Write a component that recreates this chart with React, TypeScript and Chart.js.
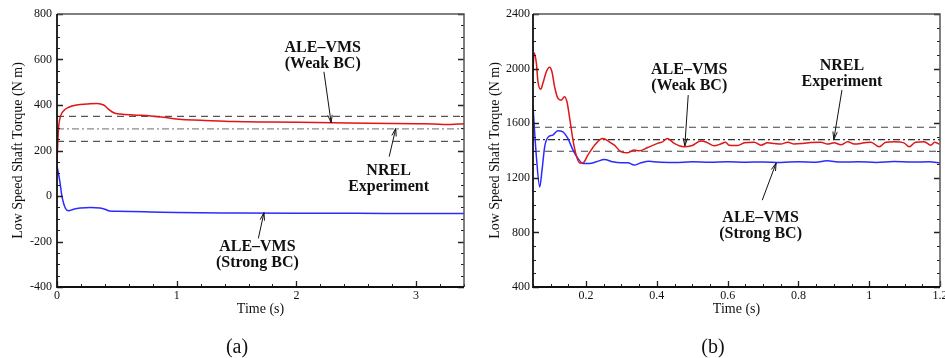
import React, { useEffect, useRef } from "react";
import { Chart, registerables } from "chart.js";
Chart.register(...registerables);

// ---------- Panel (a) data ----------
const aWeakT = [0, 0.007, 0.014, 0.028, 0.056, 0.098, 0.167, 0.25, 0.335, 0.39, 0.432, 0.474, 0.53, 0.64, 0.78, 0.92, 1.02, 1.2, 1.48, 1.8, 2.31, 2.6, 3.0, 3.15, 3.25, 3.4];
const aWeakV = [150, 240, 305, 349, 375, 390, 400, 404, 407, 400, 381, 366, 360, 356, 352, 344, 337, 333, 327, 325, 322, 320, 318, 317, 314, 318];
const aStrongT = [0, 0.022, 0.042, 0.07, 0.097, 0.14, 0.195, 0.28, 0.36, 0.4, 0.44, 0.5, 0.78, 1.0, 1.5, 2.0, 2.5, 3.0, 3.4];
const aStrongV = [132, 70, -3, -54, -65, -58, -53, -50, -53, -58, -66, -67, -70, -73, -75, -76, -76, -77, -77];
const aNrel = [240, 295, 350]; // lower, mean, upper
const aXTicks = [0, 1, 2, 3];
const aYTicks = [-400, -200, 0, 200, 400, 600, 800];

// ---------- Panel (b) data ----------
const bWeakT = [0.05, 0.053, 0.0596, 0.064, 0.0717, 0.078, 0.0877, 0.097, 0.1035, 0.111, 0.1205, 0.13, 0.139, 0.146, 0.153, 0.163, 0.172, 0.1815, 0.191, 0.205, 0.224, 0.247, 0.266, 0.28, 0.299, 0.318, 0.336, 0.35, 0.374, 0.402, 0.416, 0.43, 0.449, 0.477, 0.5, 0.524, 0.54, 0.562, 0.58, 0.594, 0.604, 0.628, 0.647, 0.675, 0.694, 0.713, 0.732, 0.75, 0.77, 0.788, 0.812, 0.835, 0.863, 0.882, 0.901, 0.92, 0.939, 0.958, 0.986, 1.005, 1.028, 1.047, 1.07, 1.098, 1.113, 1.131, 1.155, 1.174, 1.185, 1.198];
const bWeakV = [1977, 2116, 2038, 1904, 1848, 1892, 1977, 2009, 1977, 1867, 1782, 1769, 1794, 1757, 1647, 1476, 1366, 1309, 1309, 1366, 1439, 1488, 1463, 1439, 1390, 1383, 1403, 1398, 1422, 1452, 1463, 1488, 1452, 1427, 1437, 1469, 1461, 1434, 1447, 1461, 1439, 1437, 1456, 1461, 1439, 1456, 1451, 1447, 1461, 1447, 1451, 1458, 1461, 1447, 1456, 1442, 1464, 1447, 1456, 1461, 1427, 1461, 1464, 1456, 1427, 1461, 1464, 1439, 1461, 1447];
const bStrongT = [0.05, 0.0596, 0.069, 0.0755, 0.083, 0.092, 0.106, 0.12, 0.1345, 0.1485, 0.163, 0.177, 0.191, 0.21, 0.2286, 0.252, 0.275, 0.299, 0.318, 0.336, 0.355, 0.378, 0.402, 0.45, 0.5, 0.55, 0.6, 0.65, 0.7, 0.75, 0.8, 0.85, 0.88, 0.92, 0.97, 1.02, 1.07, 1.12, 1.17, 1.2];
const bStrongV = [1720, 1354, 1133, 1256, 1427, 1496, 1513, 1545, 1537, 1488, 1403, 1342, 1305, 1305, 1317, 1334, 1317, 1310, 1310, 1293, 1310, 1322, 1315, 1312, 1317, 1314, 1318, 1314, 1316, 1312, 1318, 1314, 1324, 1315, 1318, 1313, 1319, 1315, 1317, 1310];
const bNrel = [1395, 1480, 1570];
const bXTicks = [0.2, 0.4, 0.6, 0.8, 1, 1.2];
const bYTicks = [400, 800, 1200, 1600, 2000, 2400];

// ---------- Annotations ----------
const annText = [["ALE–VMS", "(Weak BC)"], ["NREL", "Experiment"], ["ALE–VMS", "(Strong BC)"]];
const aAnnLabel = [[2.22, 615], [2.77, 74], [1.674, -258]];
const aAnnFrom = [[2.23, 546], [2.775, 173], [1.682, -186]];
const aAnnTo = [[2.29, 322], [2.83, 297], [1.729, -73]];
const bAnnLabel = [[0.4914, 1931], [0.923, 1965], [0.693, 849]];
const bAnnFrom = [[0.4886, 1806], [0.923, 1843], [0.6977, 1036]];
const bAnnTo = [[0.479, 1434], [0.9, 1481], [0.737, 1308]];

const FONT = '"Liberation Serif", "Times New Roman", serif';
const RED = "#e01515";
const BLUE = "#2b2bff";

const pts = (t: number[], v: number[]) => t.map((x, i) => ({ x, y: v[i] }));

const framePlugin = {
  id: "frame",
  afterDatasetsDraw(chart: any, _a: any, opts: any) {
    const { ctx, chartArea } = chart;
    const { left, right, top, bottom } = chartArea;
    const xs = chart.scales.x, ys = chart.scales.y;
    ctx.save();
    ctx.strokeStyle = "#222";
    ctx.lineWidth = 1;
    const minorX: number[] = [];
    for (let v = xs.min; v <= xs.max + 1e-9; v += opts.xMinor) minorX.push(v);
    const minorY: number[] = [];
    for (let v = ys.min; v <= ys.max + 1e-9; v += opts.yMinor) minorY.push(v);
    ctx.beginPath();
    minorX.forEach((v) => {
      const px = Math.round(xs.getPixelForValue(v)) + 0.5;
      ctx.moveTo(px, bottom); ctx.lineTo(px, bottom - 3);
    });
    minorY.forEach((v) => {
      const py = Math.round(ys.getPixelForValue(v)) + 0.5;
      ctx.moveTo(left, py); ctx.lineTo(left + 3, py);
      ctx.moveTo(right, py); ctx.lineTo(right - 3, py);
    });
    ctx.stroke();
    ctx.lineWidth = 1.3;
    ctx.beginPath();
    opts.xMajor.forEach((v: number) => {
      const px = Math.round(xs.getPixelForValue(v)) + 0.5;
      ctx.moveTo(px, bottom); ctx.lineTo(px, bottom - 6);
    });
    opts.yMajor.forEach((v: number) => {
      const py = Math.round(ys.getPixelForValue(v)) + 0.5;
      ctx.moveTo(left, py); ctx.lineTo(left + 6, py);
      ctx.moveTo(right, py); ctx.lineTo(right - 6, py);
    });
    ctx.stroke();
    ctx.lineWidth = 1.5;
    ctx.strokeStyle = "#555";
    ctx.beginPath();
    ctx.moveTo(left, top); ctx.lineTo(right, top); ctx.lineTo(right, bottom);
    ctx.stroke();
    ctx.lineWidth = 1.8;
    ctx.strokeStyle = "#111";
    ctx.beginPath();
    ctx.moveTo(left, top); ctx.lineTo(left, bottom); ctx.lineTo(right, bottom);
    ctx.stroke();
    ctx.restore();
  },
};

const annPlugin = {
  id: "ann",
  afterDatasetsDraw(chart: any, _a: any, opts: any) {
    const { ctx } = chart;
    const xs = chart.scales.x, ys = chart.scales.y;
    ctx.save();
    ctx.font = `bold 16px ${FONT}`;
    ctx.fillStyle = "#111";
    ctx.strokeStyle = "#111";
    ctx.lineWidth = 1;
    ctx.textAlign = "center";
    ctx.textBaseline = "middle";
    opts.text.forEach((lines: string[], i: number) => {
      const cx = xs.getPixelForValue(opts.label[i][0]);
      const cy = ys.getPixelForValue(opts.label[i][1]);
      lines.forEach((ln, j) => ctx.fillText(ln, cx, cy + (j - (lines.length - 1) / 2) * 16));
      const x1 = xs.getPixelForValue(opts.from[i][0]), y1 = ys.getPixelForValue(opts.from[i][1]);
      const x2 = xs.getPixelForValue(opts.to[i][0]), y2 = ys.getPixelForValue(opts.to[i][1]);
      ctx.beginPath(); ctx.moveTo(x1, y1); ctx.lineTo(x2, y2); ctx.stroke();
      const ang = Math.atan2(y2 - y1, x2 - x1);
      const L = 8, w = 0.28;
      ctx.beginPath();
      ctx.moveTo(x2 - L * Math.cos(ang - w), y2 - L * Math.sin(ang - w));
      ctx.lineTo(x2, y2);
      ctx.lineTo(x2 - L * Math.cos(ang + w), y2 - L * Math.sin(ang + w));
      ctx.stroke();
    });
    ctx.restore();
  },
};

type Spec = {
  weakT: number[]; weakV: number[]; strongT: number[]; strongV: number[];
  nrel: number[]; xMin: number; xMax: number; yMin: number; yMax: number;
  xTicks: number[]; yTicks: number[]; xMinor: number; yMinor: number;
  yWidth: number; padRight: number; yTitlePad: number; yTickPad: number;
  dashColor: string; dotColor: string;
  annLabel: number[][]; annFrom: number[][]; annTo: number[][];
};

function makeConfig(s: Spec): any {
  const band = (v: number) => [{ x: s.xMin, y: v }, { x: s.xMax, y: v }];
  const lineDs = (data: any, color: string, w = 1.5) => ({
    data, borderColor: color, borderWidth: w, pointRadius: 0, fill: false,
    cubicInterpolationMode: "monotone" as const,
  });
  return {
    type: "line",
    data: {
      datasets: [
        lineDs(pts(s.weakT, s.weakV), RED),
        lineDs(pts(s.strongT, s.strongV), BLUE),
        { ...lineDs(band(s.nrel[2]), s.dashColor, 1.1), borderDash: [7, 5] },
        { ...lineDs(band(s.nrel[1]), s.dotColor, 1.1), borderDash: [7, 3, 2, 3] },
        { ...lineDs(band(s.nrel[0]), s.dashColor, 1.1), borderDash: [7, 5] },
      ],
    },
    options: {
      animation: false,
      responsive: false,
      devicePixelRatio: 1,
      layout: { padding: { left: 0, right: s.padRight, top: 14, bottom: 0 } },
      plugins: {
        legend: { display: false },
        tooltip: { enabled: false },
        frame: { xMajor: s.xTicks, yMajor: s.yTicks, xMinor: s.xMinor, yMinor: s.yMinor },
        ann: { text: annText, label: s.annLabel, from: s.annFrom, to: s.annTo },
      },
      scales: {
        x: {
          type: "linear", min: s.xMin, max: s.xMax,
          grid: { display: false, drawTicks: false },
          border: { display: false },
          ticks: { autoSkip: false, maxRotation: 0, padding: 2, color: "#111",
            font: { family: FONT, size: 12 }, callback: (v: any) => String(v) },
          title: { display: true, text: "Time (s)", color: "#111",
            font: { family: FONT, size: 14 }, padding: { top: 0, bottom: 40 } },
          afterBuildTicks: (sc: any) => { sc.ticks = s.xTicks.map((v) => ({ value: v })); },
          afterFit: (sc: any) => { sc.height = 71; sc.paddingLeft = 0; sc.paddingRight = 0; },
        },
        y: {
          type: "linear", min: s.yMin, max: s.yMax,
          grid: { display: false, drawTicks: false },
          border: { display: false },
          ticks: { autoSkip: false, padding: s.yTickPad, color: "#111",
            font: { family: FONT, size: 12 }, callback: (v: any) => String(v) },
          title: { display: true, text: "Low Speed Shaft Torque (N m)", color: "#111",
            font: { family: FONT, size: 14 }, padding: { top: s.yTitlePad, bottom: 0 } },
          afterBuildTicks: (sc: any) => { sc.ticks = s.yTicks.map((v) => ({ value: v })); },
          afterFit: (sc: any) => { sc.width = s.yWidth; sc.paddingTop = 0; sc.paddingBottom = 0; },
        },
      },
    },
    plugins: [framePlugin, annPlugin],
  };
}

const specA: Spec = {
  weakT: aWeakT, weakV: aWeakV, strongT: aStrongT, strongV: aStrongV, nrel: aNrel,
  xMin: 0, xMax: 3.4, yMin: -400, yMax: 800, xTicks: aXTicks, yTicks: aYTicks,
  xMinor: 0.2, yMinor: 50, yWidth: 57, padRight: 6, yTitlePad: 10, yTickPad: 5,
  dashColor: "#555", dotColor: "#8a8a8a",
  annLabel: aAnnLabel, annFrom: aAnnFrom, annTo: aAnnTo,
};
const specB: Spec = {
  weakT: bWeakT, weakV: bWeakV, strongT: bStrongT, strongV: bStrongV, nrel: bNrel,
  xMin: 0.05, xMax: 1.2, yMin: 400, yMax: 2400, xTicks: bXTicks, yTicks: bYTicks,
  xMinor: 0.05, yMinor: 100, yWidth: 58, padRight: 5, yTitlePad: 12, yTickPad: 3,
  dashColor: "#444", dotColor: "#333",
  annLabel: bAnnLabel, annFrom: bAnnFrom, annTo: bAnnTo,
};

function Panel({ spec, left }: { spec: Spec; left: number }) {
  const ref = useRef<HTMLCanvasElement | null>(null);
  useEffect(() => {
    if (!ref.current) return;
    const c = new Chart(ref.current, makeConfig(spec));
    return () => c.destroy();
  }, [spec]);
  return (
    <canvas ref={ref} width={470} height={358}
      style={{ position: "absolute", left, top: 0, width: 470, height: 358 }} />
  );
}

const capStyle: React.CSSProperties = {
  position: "absolute", top: 346, transform: "translate(-50%, -50%)",
  fontFamily: FONT, fontSize: 20, color: "#111", lineHeight: 1, whiteSpace: "nowrap",
};

export default function App() {
  return (
    <div style={{ position: "absolute", left: 0, top: 0, width: 945, height: 358, background: "#fff", overflow: "hidden" }}>
      <Panel spec={specA} left={0} />
      <Panel spec={specB} left={475} />
      <div style={{ ...capStyle, left: 237 }}>(a)</div>
      <div style={{ ...capStyle, left: 713 }}>(b)</div>
    </div>
  );
}
